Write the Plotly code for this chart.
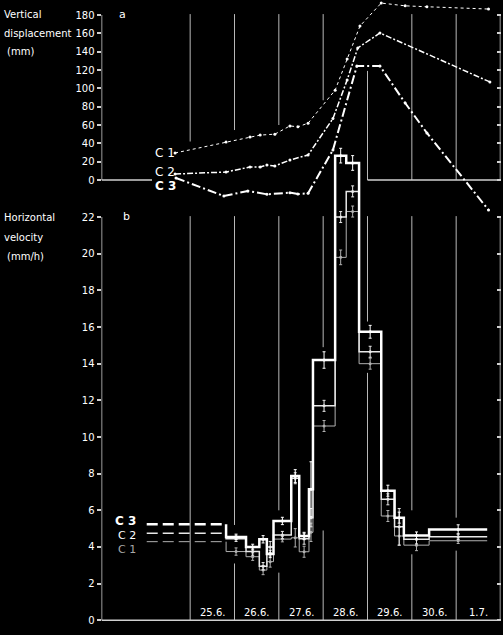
import plotly.graph_objects as go

# ---------------- data ----------------
# Panel a: vertical displacement (mm), x in days (23 = 23.6. 00:00)
c1_top_x = [24.66, 25.81, 26.35, 26.58, 26.91, 27.25, 27.43, 27.66, 28.27, 28.54, 28.83, 29.31, 29.85, 30.34, 31.73]
c1_top_v = [29.5, 41.5, 47, 49, 50, 59, 58, 62, 98, 132, 168, 193, 190, 189, 186.5]
c2_top_x = [24.66, 25.81, 26.35, 26.58, 26.73, 26.91, 27.25, 27.66, 28.22, 28.54, 28.78, 29.28, 31.76]
c2_top_v = [6.5, 8.7, 14.2, 14.2, 16.4, 15.3, 21.8, 27.3, 67, 109, 144, 160.4, 107]
c3_top_x = [24.68, 25.76, 26.30, 26.73, 27.25, 27.43, 27.66, 28.22, 28.76, 29.28, 29.85, 30.34, 31.73]
c3_top_v = [2.2, -17.5, -12, -15.6, -13.8, -15.3, -14.5, 32.7, 124.4, 124.4, 84, 51.3, -32.7]

# Panel b: horizontal velocity (mm/h), step intervals
step_edges = [25.81, 26.26, 26.56, 26.73, 26.88, 27.28, 27.46, 27.68, 27.77, 28.27,
              28.52, 28.81, 29.31, 29.61, 29.82, 30.39, 31.70]
c3_vel = [4.55, 4.00, 4.42, 3.62, 5.42, 7.87, 4.60, 7.15, 14.20, 25.35, 24.95, 15.74, 7.07, 5.60, 4.62, 4.96]
c2_vel = [4.45, 3.75, 2.95, 4.00, 4.65, 7.75, 4.45, 5.60, 11.70, 22.00, 23.40, 14.65, 6.60, 5.10, 4.42, 4.56]
c1_vel = [3.75, 3.47, 2.74, 3.20, 4.43, 4.50, 3.74, 4.80, 10.60, 19.80, 22.30, 14.00, 5.69, 4.60, 4.10, 4.34]
c3_err = [0.15, 0.15, 0.2, 0.2, 0.2, 0.35, 0.2, 1.5, 0.45, 0.4, 0.4, 0.35, 0.3, 0.3, 0.2, 0.25]
c2_err = [0.15, 0.2, 0.2, 0.3, 0.2, 0.3, 0.3, 0.5, 0.3, 0.3, 0.3, 0.3, 0.3, 1.0, 0.25, 0.15]
c1_err = [0.2, 0.2, 0.25, 0.3, 0.15, 0.5, 0.3, 0.5, 0.3, 0.4, 0.3, 0.3, 0.3, 0.5, 0.3, 0.15]
lead_start = 24.02
lead_levels = {"C3": 5.24, "C2": 4.75, "C1": 4.29}

day_labels = ["25.6.", "26.6.", "27.6.", "28.6.", "29.6.", "30.6.", "1.7."]
day_label_pos = [25.5, 26.5, 27.5, 28.5, 29.5, 30.5, 31.5]
vel_ticks = list(range(0, 23, 2))
disp_ticks = list(range(0, 181, 20))

# broken day lines (day, from, to)
bottom_day_lines = [(25, 0, 22.05), (26, 0, 3.1), (26, 5.2, 22.05), (27, 0, 2.6), (27, 6.0, 22.05),
                    (28, 0, 4.9), (28, 14.9, 22.05), (29, 0, 13.5), (29, 16.3, 22.05),
                    (30, 0, 3.6), (30, 6.0, 22.05), (31, 0, 3.8), (31, 5.6, 22.05)]
top_day_lines = [(25, 42, 181), (26, 54.5, 181), (27, 60, 181), (28, 87, 181),
                 (29, 0, 119), (30, 0, 181), (31, 0, 181)]

W, H = 503, 635
XL, XR = 101.5, 500.5
X0, X1 = 23, 32
vb_zero, vb_scale = 620.3, 18.33      # px of 0, px per unit
va_zero, va_scale = 180.0, 165 / 180  # px of 0 mm, px per mm

GRID = "#b8b8b8"
AXC = "#d0d0d0"
FONT = "DejaVu Sans"

fig = go.Figure()

# ---- panel a lines ----
for xs, vs, dash, w in [(c1_top_x, c1_top_v, "3px,3px", 1.0),
                        (c2_top_x, c2_top_v, "6px,2px,2px,2px", 1.5),
                        (c3_top_x, c3_top_v, "9px,3px,2px,3px", 2.0)]:
    fig.add_trace(go.Scatter(x=xs, y=vs, yaxis="y2", mode="lines+markers",
                             line=dict(color="white", width=w, dash=dash),
                             marker=dict(size=3, color="white"), hoverinfo="skip", cliponaxis=False))

# ---- panel b steps ----
def step_trace(vals, lead, color, width):
    xs = [step_edges[0]] + step_edges
    ys = [lead] + vals + [vals[-1]]
    return go.Scatter(x=xs, y=ys, mode="lines", line=dict(color=color, width=width, shape="hv"),
                      hoverinfo="skip")

series = [("C1", c1_vel, c1_err, "#b0b0b0", 1.0),
          ("C2", c2_vel, c2_err, "#e8e8e8", 1.5),
          ("C3", c3_vel, c3_err, "white", 2.5)]
mids = [(a + b) / 2 for a, b in zip(step_edges[:-1], step_edges[1:])]
for name, vals, errs, col, w in series:
    lv = lead_levels[name]
    fig.add_trace(go.Scatter(x=[lead_start, step_edges[0]], y=[lv, lv], mode="lines",
                             line=dict(color=col, width=w, dash="11px,5px"), hoverinfo="skip"))
    fig.add_trace(step_trace(vals, lv, col, w))
    fig.add_trace(go.Scatter(x=mids, y=vals, mode="markers",
                             marker=dict(size=3, color=col),
                             error_y=dict(type="data", array=errs, color=col, thickness=1, width=1.5),
                             hoverinfo="skip"))

# dummy traces to activate right-side axes
fig.add_trace(go.Scatter(x=[X0], y=[0], yaxis="y3", mode="markers", marker=dict(opacity=0), hoverinfo="skip"))
fig.add_trace(go.Scatter(x=[X0], y=[0], yaxis="y4", mode="markers", marker=dict(opacity=0), hoverinfo="skip"))

# ---- shapes ----
shapes = []
def seg(x0, y0, x1, y1, yref, color=GRID, width=1):
    shapes.append(dict(type="line", xref="x", yref=yref, x0=x0, y0=y0, x1=x1, y1=y1,
                       line=dict(color=color, width=width), layer="below"))

for d, a, b in bottom_day_lines:
    seg(d, a, d, b, "y")
for d, a, b in top_day_lines:
    seg(d, a, d, b, "y2")
seg(X0, 0, X0, 22, "y", AXC, 1.5)
seg(X1, 0, X1, 22, "y", AXC, 1.5)
seg(X0, 0, X1, 0, "y", AXC, 1.5)
seg(X0, 0, X0, 180, "y2", AXC, 1.5)
seg(X1, 0, X1, 180, "y2", AXC, 1.5)
seg(X0, 0, 24.14, 0, "y2", AXC, 1.5)
seg(29, 0, X1, 0, "y2", AXC, 1.5)

# ---- annotations ----
ann = []
def txt(x, y, t, size=11, color="white", xanchor="left", bold=False):
    ann.append(dict(x=x / W, y=1 - y / H, xref="paper", yref="paper", text=("<b>%s</b>" % t if bold else t),
                    showarrow=False, xanchor=xanchor, yanchor="middle",
                    font=dict(family=FONT, size=size, color=color)))

txt(2, 15, "Vertical", 10)
txt(2, 33, "displacement", 10)
txt(5, 52, "(mm)", 10)
txt(2, 218, "Horizontal", 10)
txt(2, 237, "velocity", 10)
txt(5, 256, "(mm/h)", 10)
txt(117, 15, "a", 11)
txt(121, 217, "b", 11)
txt(153, 153, "C 1", 12)
txt(153, 172, "C 2", 12)
txt(153, 186, "C 3", 12, bold=True)
txt(138, 521, "C 3", 12, xanchor="right", bold=True)
txt(138, 535, "C 2", 11, xanchor="right")
txt(138, 549, "C 1", 11, color="#a8a8a8", xanchor="right")
for lab, pos in zip(day_labels, day_label_pos):
    px = XL + (pos - X0) * (XR - XL) / (X1 - X0)
    txt(px, 612, lab, 10, xanchor="center")

yb_range = [(vb_zero - H) / vb_scale, vb_zero / vb_scale]
ya_range = [(va_zero - H) / va_scale, va_zero / va_scale]

tickfont = dict(family=FONT, size=10, color="white")
fig.update_layout(
    width=W, height=H, margin=dict(l=0, r=0, t=0, b=0),
    paper_bgcolor="black", plot_bgcolor="black", showlegend=False,
    shapes=shapes, annotations=ann,
    xaxis=dict(domain=[XL / W, XR / W], range=[X0, X1], showticklabels=False, showgrid=False,
               zeroline=False, showline=False, ticks=""),
    yaxis=dict(domain=[0, 1], range=yb_range, tickvals=vel_ticks, ticks="outside", ticklen=4,
               tickcolor=AXC, tickwidth=1.5, showgrid=False, zeroline=False, showline=False,
               tickfont=tickfont),
    yaxis2=dict(overlaying="y", anchor="x", side="left", range=ya_range, tickvals=disp_ticks,
                ticks="outside", ticklen=4, tickcolor=AXC, tickwidth=1.5, showgrid=False,
                zeroline=False, showline=False, tickfont=tickfont),
    yaxis3=dict(overlaying="y", anchor="x", side="right", range=yb_range, tickvals=vel_ticks,
                ticks="inside", ticklen=4, tickcolor=AXC, tickwidth=1.5, showticklabels=False,
                showgrid=False, zeroline=False, showline=False),
    yaxis4=dict(overlaying="y", anchor="x", side="right", range=ya_range, tickvals=disp_ticks,
                ticks="inside", ticklen=4, tickcolor=AXC, tickwidth=1.5, showticklabels=False,
                showgrid=False, zeroline=False, showline=False),
)

fig.write_html("out.html", config={"displayModeBar": False},
               post_script="document.body.style.margin='0px';document.body.style.overflow='hidden';document.body.style.background='black';")
